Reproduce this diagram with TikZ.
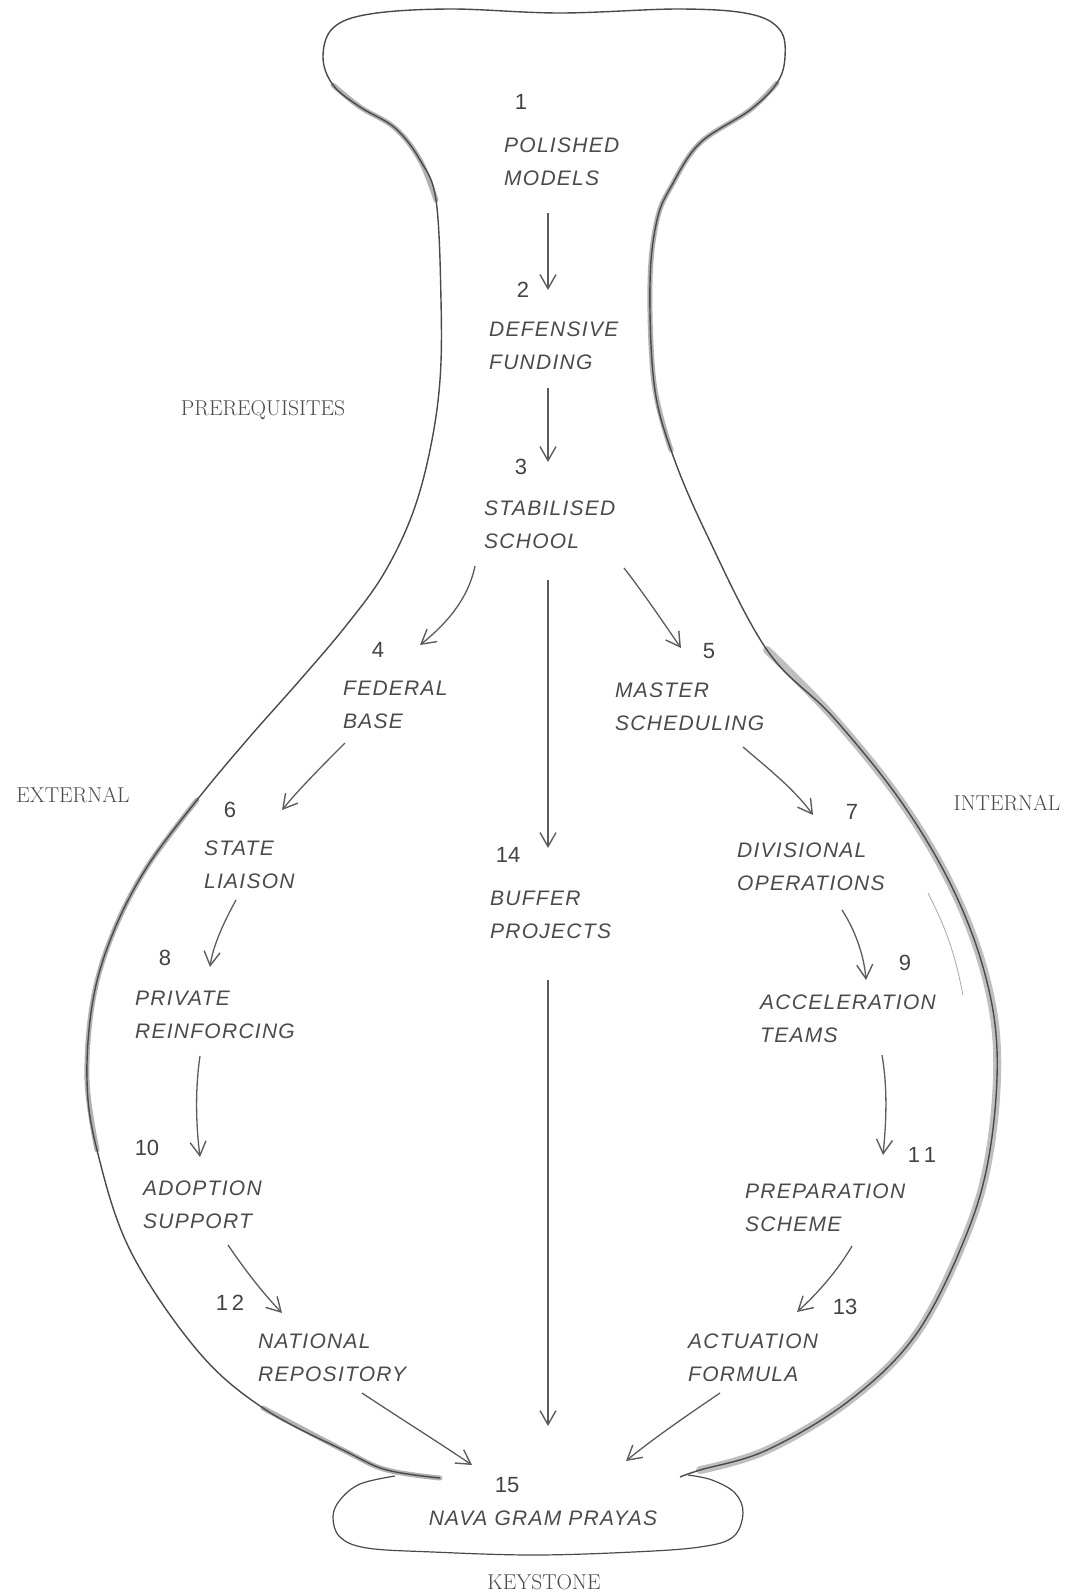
\documentclass[tikz,border=0pt]{standalone}
\usepackage{fontspec}
\usetikzlibrary{arrows.meta}
\newfontfamily\labfont[LetterSpace=6]{Liberation Sans}
\newfontfamily\numfont{Liberation Sans}
\definecolor{ink}{HTML}{4A4A4A}
\definecolor{lineink}{HTML}{5C5C5C}
\begin{document}
\begin{tikzpicture}[x=1pt,y=-1pt,
  lbl/.style={font=\labfont\itshape\fontsize{21}{33}\selectfont, text=ink, align=left, anchor=west, inner sep=0pt},
  num/.style={font=\numfont\fontsize{22}{26}\selectfont, text=ink!90!black, inner sep=0pt},
  side/.style={font=\fontsize{21.5}{26}\selectfont, text=ink, inner sep=0pt},
  flow/.style={draw=lineink, line width=1.3pt, -{Straight Barb[length=14pt,width=16pt,line width=1.4pt]}},
  rim/.style={draw=ink, line width=1.4pt},
  band/.style={draw=gray!60, line width=5pt, line cap=round},
  wideband/.style={draw=gray!50, line width=8pt, line cap=round},
]
\path[use as bounding box] (0,0) rectangle (1075,1593);

% ---- vase outline: grey bands ----
\draw[band] plot[smooth, tension=0.6] coordinates {(333,85) (360,107) (395,128) (420,160) (436,200)};
\draw[band] plot[smooth, tension=0.6] coordinates {(777,83) (750,110) (700,143) (672,185) (657,220) (650,283) (654,383) (671,450)};
\draw[wideband] plot[smooth, tension=0.6] coordinates {(767,650) (833,717) (900,800) (950,883) (983,967) (997,1050) (990,1150) (967,1233) (917,1333) (850,1400) (767,1450) (700,1470)};
\draw[band] plot[smooth, tension=0.6] coordinates {(197,800) (147,867) (113,933) (93,1000) (87,1080) (97,1150)};
\draw[band] plot[smooth, tension=0.6] coordinates {(263,1408) (347,1452) (387,1470) (440,1478)};

% ---- vase outline: line ----
\draw[rim] plot[smooth, tension=0.6] coordinates {
  (440,1478) (387,1470) (347,1452) (263,1408) (197,1350) (130,1250) (97,1150)
  (87,1080) (93,1000) (113,933) (147,867) (197,800) (247,740) (300,680) (345,627)
  (383,575) (412,515) (430,450) (440,380) (441,300) (436,200) (420,160) (395,128)
  (360,107) (333,85) (323,57) (333,28) (370,14) (450,9) (560,13) (680,9) (750,14)
  (780,30) (785,57) (777,83) (750,110) (700,143) (672,185) (657,220) (650,283)
  (654,383) (671,450) (706,533) (767,650) (833,717) (900,800) (950,883) (983,967)
  (997,1050) (990,1150) (967,1233) (917,1333) (850,1400) (767,1450) (700,1470) (680,1477)};
% inner second stroke on the right
\draw[draw=gray!70, line width=0.8pt] plot[smooth, tension=0.6] coordinates {(928,893) (943,925) (955,960) (963,995)};
% base (keystone)
\draw[rim, line width=1.2pt] plot[smooth, tension=0.6] coordinates {
  (395,1476) (360,1484) (340,1500) (333,1517) (340,1537) (367,1548) (433,1552)
  (533,1555) (633,1552) (700,1547) (733,1537) (743,1513) (735,1493) (712,1480) (688,1475)};

% ---- numbers ----
\node[num] (n1) at (521,102) {1};
\node[num] (n2) at (523,290) {2};
\node[num] (n3) at (521,467) {3};
\node[num] (n4) at (378,650) {4};
\node[num] (n5) at (709,651) {5};
\node[num] (n6) at (230,810) {6};
\node[num] (n7) at (852,812) {7};
\node[num] (n8) at (165,958) {8};
\node[num] (n9) at (905,963) {9};
\node[num] (n10) at (147,1148) {10};
\node[num] (n11) at (922,1155) {1\,1};
\node[num] (n12) at (230,1303) {1\,2};
\node[num] (n13) at (845,1307) {13};
\node[num] (n14) at (508,855) {14};
\node[num] (n15) at (507,1485) {15};

% ---- labels ----
\node[lbl] (t1) at (504,161.5) {POLISHED\\MODELS};
\node[lbl] (t2) at (489,346) {DEFENSIVE\\FUNDING};
\node[lbl] (t3) at (484,525) {STABILISED\\SCHOOL};
\node[lbl] (t4) at (343,705) {FEDERAL\\BASE};
\node[lbl] (t5) at (615,706.5) {MASTER\\SCHEDULING};
\node[lbl] (t6) at (204,864.5) {STATE\\LIAISON};
\node[lbl] (t7) at (737,866.5) {DIVISIONAL\\OPERATIONS};
\node[lbl] (t14) at (490,914.5) {BUFFER\\PROJECTS};
\node[lbl] (t8) at (135,1015) {PRIVATE\\REINFORCING};
\node[lbl] (t9) at (760,1018.5) {ACCELERATION\\TEAMS};
\node[lbl] (t10) at (143,1205) {ADOPTION\\SUPPORT};
\node[lbl] (t11) at (745,1207.5) {PREPARATION\\SCHEME};
\node[lbl] (t12) at (258,1357.5) {NATIONAL\\REPOSITORY};
\node[lbl] (t13) at (688,1357.5) {ACTUATION\\FORMULA};
\node[lbl, anchor=center] (t15) at (543,1518) {NAVA GRAM PRAYAS};

% ---- side captions ----
\node[side] (prereq) at (263,410) {PREREQUISITES};
\node[side] (external) at (73,795) {EXTERNAL};
\node[side] (internal) at (1007,803) {INTERNAL};
\node[side] (keystone) at (544,1582) {KEYSTONE};

% ---- arrow end points ----
\coordinate (a12s) at (548,213);  \coordinate (a12e) at (548,290);
\coordinate (a23s) at (548,388);  \coordinate (a23e) at (548,462);
\coordinate (a34s) at (475,566);  \coordinate (a34e) at (420,645);
\coordinate (a35s) at (624,568);  \coordinate (a35e) at (681,648);
\coordinate (a314s) at (548,580); \coordinate (a314e) at (548,848);
\coordinate (a46s) at (345,743);  \coordinate (a46e) at (282,810);
\coordinate (a57s) at (743,747);  \coordinate (a57e) at (813,815);
\coordinate (a68s) at (236,900);  \coordinate (a68e) at (210,967);
\coordinate (a79s) at (842,910);  \coordinate (a79e) at (866,980);
\coordinate (a810s) at (200,1056); \coordinate (a810e) at (200,1157);
\coordinate (a911s) at (882,1055); \coordinate (a911e) at (883,1155);
\coordinate (a1012s) at (228,1245); \coordinate (a1012e) at (282,1313);
\coordinate (a1113s) at (852,1246); \coordinate (a1113e) at (797,1312);
\coordinate (a1415s) at (548,980); \coordinate (a1415e) at (548,1426);
\coordinate (a1215s) at (362,1393); \coordinate (a1215e) at (472,1465);
\coordinate (a1315s) at (720,1393); \coordinate (a1315e) at (626,1461);

% ---- arrows ----
\draw[flow] (a12s) -- (a12e);
\draw[flow] (a23s) -- (a23e);
\draw[flow] (a34s) .. controls (468,600) and (445,625) .. (a34e);
\draw[flow] (a35s) .. controls (645,595) and (665,625) .. (a35e);
\draw[flow] (a314s) -- (a314e);
\draw[flow] (a46s) .. controls (325,763) and (300,788) .. (a46e);
\draw[flow] (a57s) .. controls (770,770) and (795,790) .. (a57e);
\draw[flow] (a68s) .. controls (225,920) and (213,945) .. (a68e);
\draw[flow] (a79s) .. controls (855,930) and (864,955) .. (a79e);
\draw[flow] (a810s) .. controls (195,1090) and (196,1125) .. (a810e);
\draw[flow] (a911s) .. controls (888,1090) and (886,1125) .. (a911e);
\draw[flow] (a1012s) .. controls (245,1270) and (262,1292) .. (a1012e);
\draw[flow] (a1113s) .. controls (838,1270) and (818,1293) .. (a1113e);
\draw[flow] (a1415s) -- (a1415e);
\draw[flow] (a1215s) .. controls (395,1415) and (435,1440) .. (a1215e);
\draw[flow] (a1315s) .. controls (695,1410) and (655,1437) .. (a1315e);
\end{tikzpicture}
\end{document}
